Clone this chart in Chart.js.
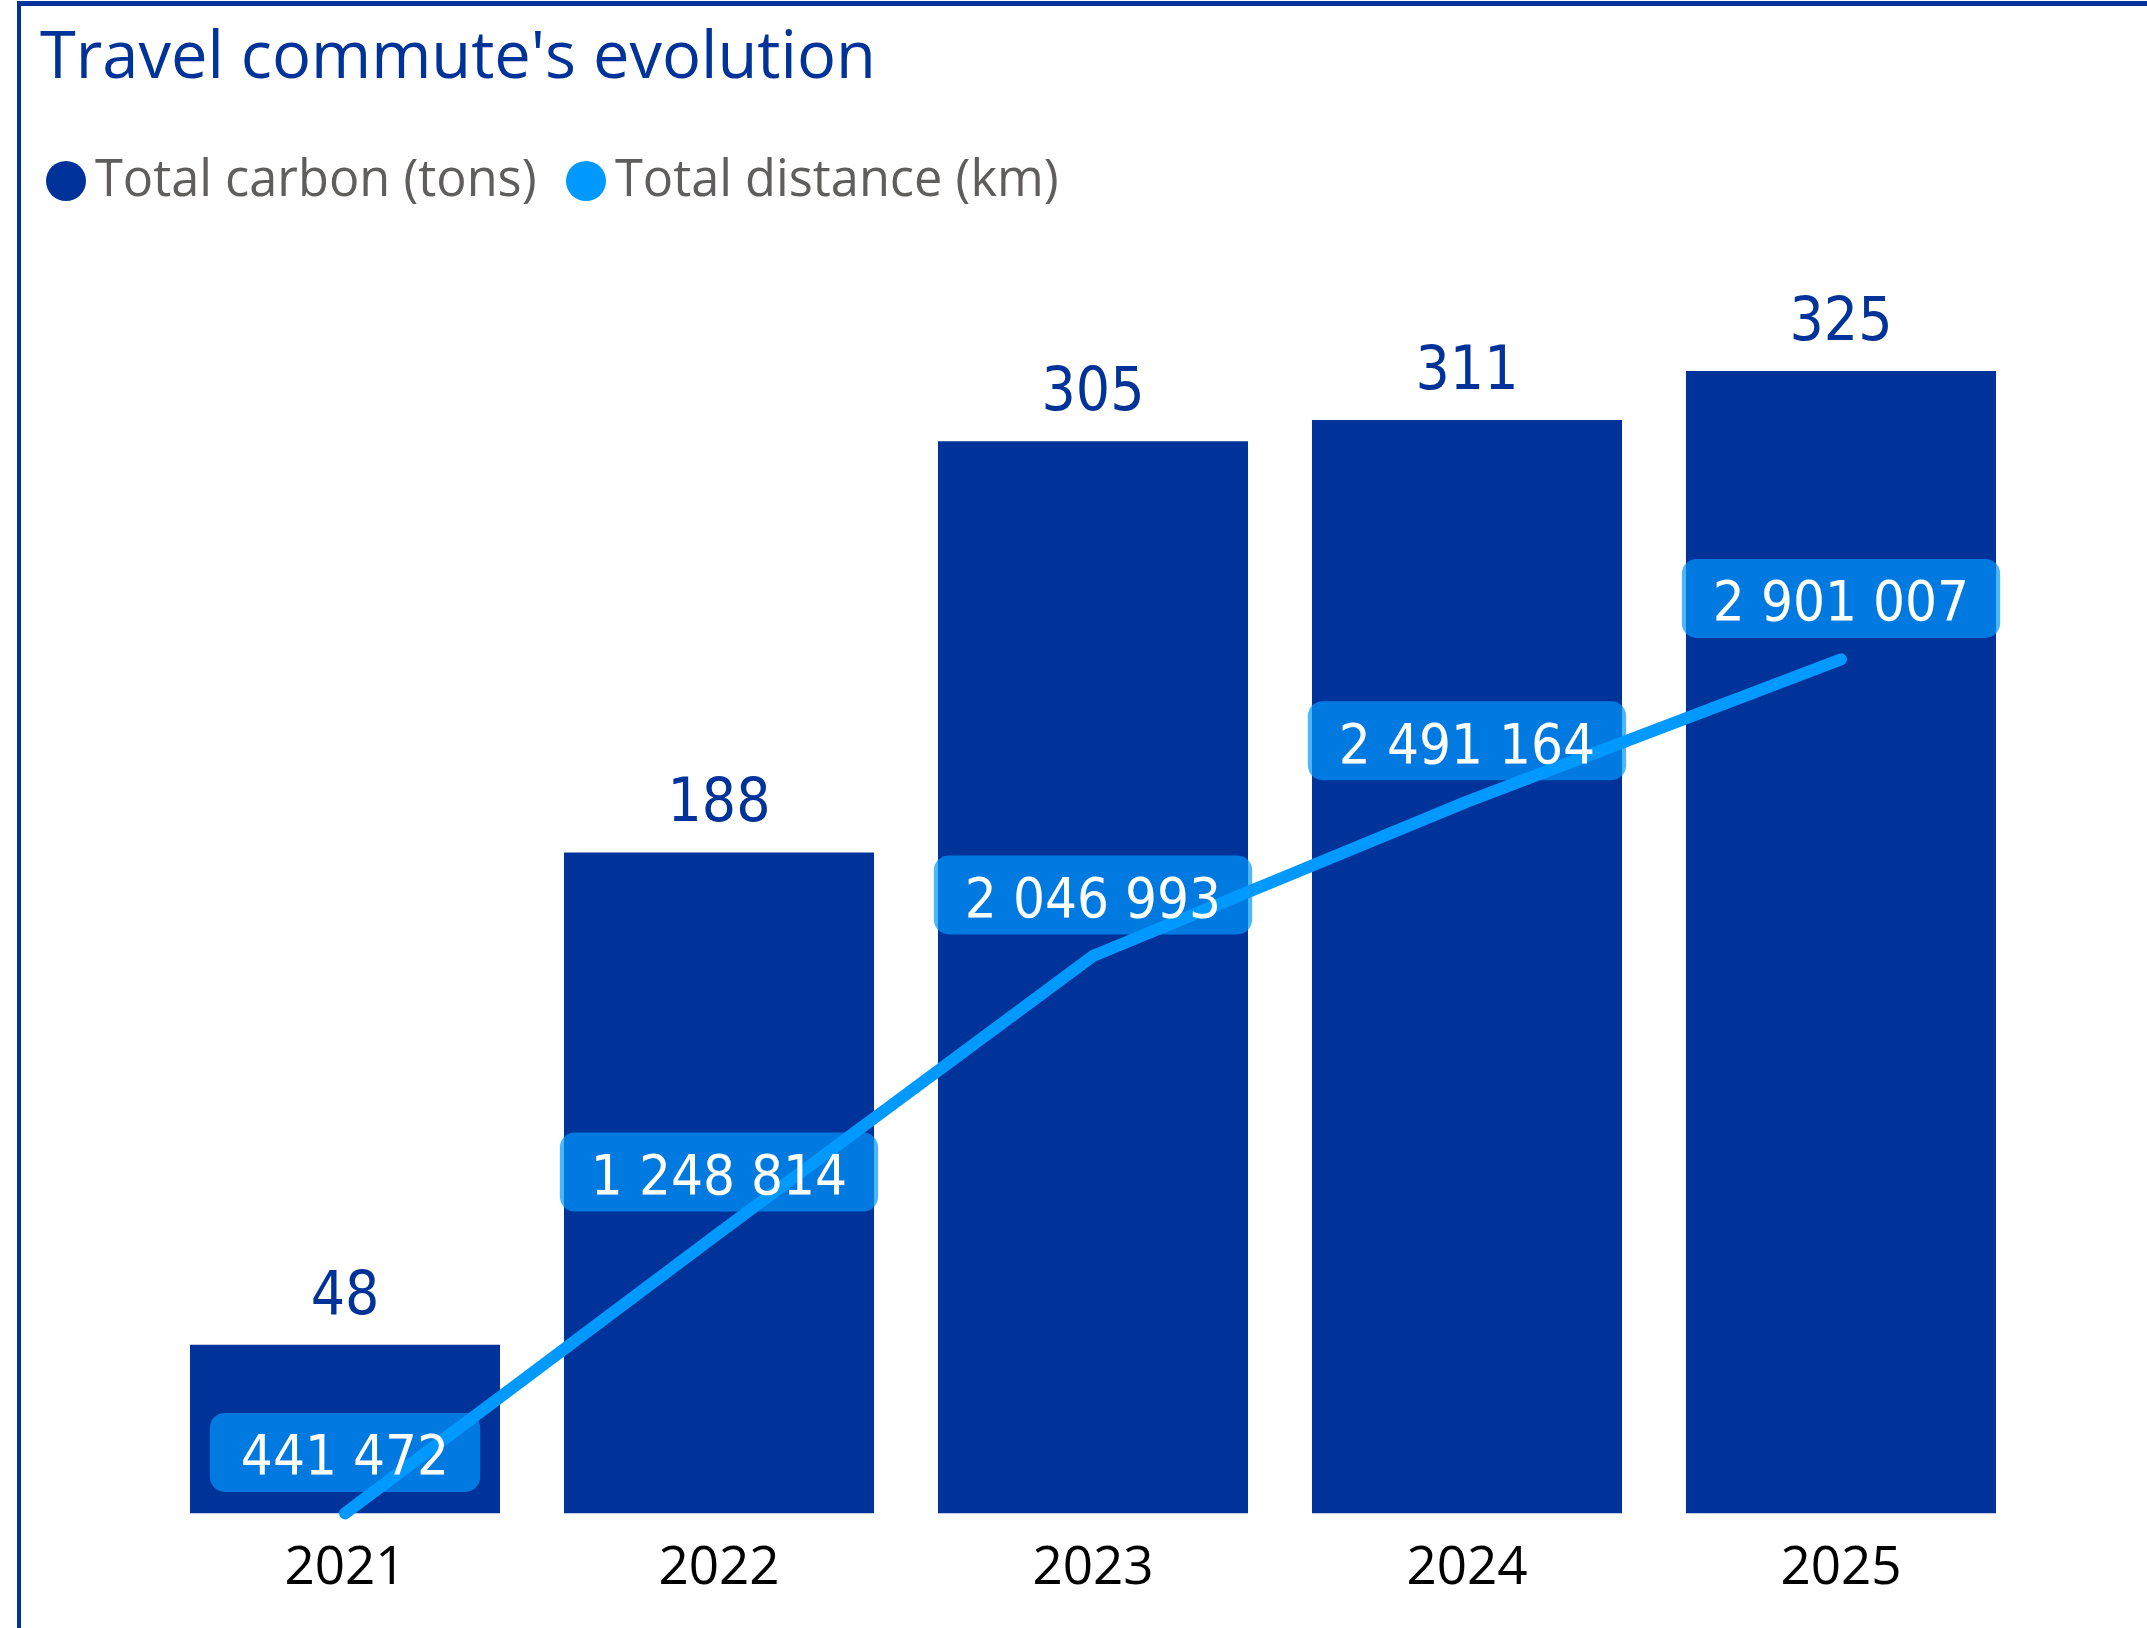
<!DOCTYPE html>
<html>
<head>
<meta charset="utf-8">
<title>Travel commute's evolution</title>
<script src="https://cdn.jsdelivr.net/npm/chart.js@4.4.1/dist/chart.umd.min.js"></script>
<style>
  html, body { margin: 0; padding: 0; background: #fff; overflow: hidden; }
  #page { position: relative; width: 2147px; height: 1628px; }
  #frame {
    position: absolute; left: 17px; top: 1px; right: -10px; bottom: -10px;
    border-left: 4px solid #003399; border-top: 5px solid #003399;
  }
  #title {
    position: absolute; left: 40px; top: 21px; margin: 0; font-weight: normal;
    font: 65px/64px "Open Sans", sans-serif; color: #003399; white-space: nowrap;
  }
  .dot { position: absolute; width: 40px; height: 40px; border-radius: 50%; top: 161px; }
  .lg {
    position: absolute; top: 152px;
    font: 50.5px/50px "Open Sans", sans-serif; color: #605e5c; white-space: nowrap;
  }
  #chart { position: absolute; left: 0; top: 0; }
</style>
</head>
<body>
<div id="page">
  <div id="frame"></div>
  <canvas id="chart" width="2147" height="1628"></canvas>
  <h1 id="title">Travel commute's evolution</h1>
  <span class="dot" style="left:46px;background:#003399"></span>
  <span class="lg" style="left:95px">Total carbon (tons)</span>
  <span class="dot" style="left:566px;background:#0099ff"></span>
  <span class="lg" style="left:615px">Total distance (km)</span>
</div>
<script>
var years = ['2021', '2022', '2023', '2024', '2025'];
var carbon = [48, 188, 305, 311, 325];
var distance = [441472, 1248814, 2046993, 2491164, 2901007];

var numFont = "'DejaVu Sans Condensed', 'DejaVu Sans', sans-serif";

function fmt(v) {
    return String(v).replace(/\B(?=(\d{3})+(?!\d))/g, ' ');
}

// value labels: plain numbers above bars, rounded boxes above line points
var valueLabels = {
    id: 'valueLabels',
    afterDatasetsDraw: function(chart) {
        var c = chart.ctx;
        var bars = chart.getDatasetMeta(0).data;
        var pts = chart.getDatasetMeta(1).data;
        c.save();
        c.textAlign = 'center';
        c.textBaseline = 'alphabetic';

        c.font = '60px ' + numFont;
        c.fillStyle = '#003399';
        bars.forEach(function(bar, i) {
            c.fillText(fmt(carbon[i]), bar.x, bar.y - 31);
        });

        c.font = '56px ' + numFont;
        pts.forEach(function(pt, i) {
            var txt = fmt(distance[i]);
            var w = c.measureText(txt).width + 62;
            var h = 79;
            var cy = pt.y - 61;
            c.fillStyle = 'rgba(0, 153, 255, 0.7)';
            c.beginPath();
            c.roundRect(pt.x - w / 2, cy - h / 2, w, h, 15);
            c.fill();
            c.fillStyle = '#ffffff';
            c.fillText(txt, pt.x, cy + 22);
        });
        c.restore();
    }
};

var ctx = document.getElementById('chart').getContext('2d');
var myChart = new Chart(ctx, {
    data: {
        labels: years,
        datasets: [{
            type: 'bar',
            label: 'Total carbon (tons)',
            data: carbon,
            backgroundColor: '#003399',
            borderWidth: 0,
            categoryPercentage: 1,
            barPercentage: 0.829,
            yAxisID: 'y',
            order: 2
        }, {
            type: 'line',
            label: 'Total distance (km)',
            data: distance,
            borderColor: '#0099ff',
            borderWidth: 12,
            borderCapStyle: 'round',
            pointRadius: 0,
            pointHoverRadius: 0,
            tension: 0,
            clip: false,
            yAxisID: 'y2',
            order: 1
        }]
    },
    options: {
        responsive: false,
        devicePixelRatio: 1,
        animation: false,
        layout: {
            padding: { left: 158, right: 119, top: 283, bottom: 3 }
        },
        plugins: {
            legend: { display: false },
            title: { display: false },
            tooltip: { enabled: false }
        },
        scales: {
            x: {
                grid: { display: false, drawTicks: false },
                border: { display: false },
                ticks: {
                    padding: 24,
                    color: '#000000',
                    font: { family: "'Open Sans', sans-serif", size: 53 }
                }
            },
            y: {
                display: false,
                min: 0,
                max: 350
            },
            y2: {
                display: false,
                position: 'right',
                min: Math.min.apply(null, distance),
                max: 3985000
            }
        }
    },
    plugins: [valueLabels]
});
</script>
</body>
</html>
